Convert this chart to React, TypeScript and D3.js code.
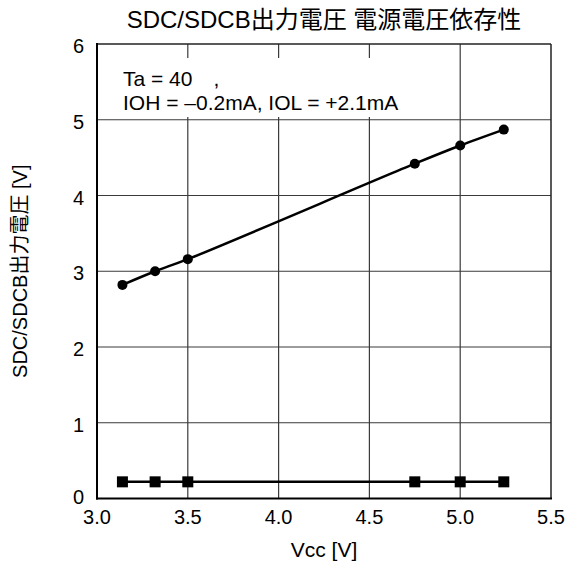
import React, { useEffect, useRef } from 'react';
import * as d3 from 'd3';

const vccHigh = [3.14, 3.32, 3.5, 4.75, 5.0, 5.24];
const vohValues = [2.82, 3.0, 3.16, 4.42, 4.66, 4.87];
const vccLow = [3.14, 3.32, 3.5, 4.75, 5.0, 5.24];
const volValues = [0.22, 0.22, 0.22, 0.22, 0.22, 0.22];
const xTicks = [3.0, 3.5, 4.0, 4.5, 5.0, 5.5];
const yTicks = [0, 1, 2, 3, 4, 5, 6];

const FONT = '"Liberation Sans", Arial, "Noto Sans CJK JP", sans-serif';

const App = () => {
  const svgRef = useRef<SVGSVGElement>(null);

  useEffect(() => {
    document.body.style.margin = '0';
    const svg = d3.select(svgRef.current);
    svg.selectAll('*').remove();

    const width = 568;
    const height = 565;
    const left = 97, right = 551, top = 44, bottom = 498.5;

    svg.attr('width', width).attr('height', height).style('font-family', FONT);

    const x = d3.scaleLinear().domain([3, 5.5]).range([left, right]);
    const y = d3.scaleLinear().domain([0, 6]).range([bottom, top]);

    // grid
    const grid = svg.append('g');
    grid.selectAll('.vg')
      .data(xTicks.slice(1, -1))
      .enter().append('line')
      .attr('x1', d => x(d)).attr('x2', d => x(d))
      .attr('y1', top).attr('y2', bottom)
      .attr('stroke', '#3a3a3a').attr('stroke-width', 1.2);
    grid.selectAll('.hg')
      .data(yTicks.slice(1, -1))
      .enter().append('line')
      .attr('x1', left).attr('x2', right)
      .attr('y1', d => y(d)).attr('y2', d => y(d))
      .attr('stroke', '#3a3a3a').attr('stroke-width', 1.2);

    // annotation box (covers the grid)
    svg.append('rect')
      .attr('x', 112).attr('y', 58).attr('width', 298).attr('height', 59)
      .attr('fill', 'white');
    const note = svg.append('text')
      .style('font-size', '21px')
      .attr('fill', '#000');
    note.append('tspan').attr('x', 123).attr('y', 86).text('Ta = 40\u3000,');
    note.append('tspan').attr('x', 123).attr('y', 110).text('IOH = \u20130.2mA, IOL = +2.1mA');

    // frame
    svg.append('line')
      .attr('x1', left).attr('x2', right).attr('y1', top).attr('y2', top)
      .attr('stroke', '#222').attr('stroke-width', 1.5);
    svg.append('line')
      .attr('x1', right).attr('x2', right).attr('y1', top).attr('y2', bottom)
      .attr('stroke', '#222').attr('stroke-width', 1.5);
    svg.append('line')
      .attr('x1', left).attr('x2', left).attr('y1', top - 1).attr('y2', bottom + 1)
      .attr('stroke', '#000').attr('stroke-width', 2);
    svg.append('line')
      .attr('x1', left - 1).attr('x2', right + 1).attr('y1', bottom).attr('y2', bottom)
      .attr('stroke', '#000').attr('stroke-width', 2);

    // tick labels
    svg.selectAll('.xt')
      .data(xTicks)
      .enter().append('text')
      .attr('x', d => x(d)).attr('y', bottom + 25)
      .attr('text-anchor', 'middle')
      .style('font-size', '20px')
      .text(d => d.toFixed(1));
    svg.selectAll('.yt')
      .data(yTicks)
      .enter().append('text')
      .attr('x', left - 13).attr('y', d => y(d) + (d === 0 ? 5.5 : 9))
      .attr('text-anchor', 'end')
      .style('font-size', '20px')
      .text(d => d);

    // axis titles
    svg.append('text')
      .attr('x', 324).attr('y', 28)
      .attr('text-anchor', 'middle')
      .style('font-size', '24px')
      .text('SDC/SDCB出力電圧 電源電圧依存性');
    svg.append('text')
      .attr('x', 324).attr('y', 557)
      .attr('text-anchor', 'middle')
      .style('font-size', '21px')
      .text('Vcc [V]');
    svg.append('text')
      .attr('transform', `translate(27, ${(top + bottom) / 2}) rotate(-90)`)
      .attr('text-anchor', 'middle')
      .style('font-size', '20px')
      .text('SDC/SDCB出力電圧 [V]');

    // series
    const high = vccHigh.map((v, i) => [v, vohValues[i]] as [number, number]);
    const low = vccLow.map((v, i) => [v, volValues[i]] as [number, number]);

    const line = d3.line<[number, number]>()
      .x(d => x(d[0]))
      .y(d => y(d[1]))
      .curve(d3.curveCatmullRom);

    svg.append('path')
      .attr('d', line(high))
      .attr('fill', 'none').attr('stroke', '#000').attr('stroke-width', 2.5);
    svg.append('path')
      .attr('d', line(low))
      .attr('fill', 'none').attr('stroke', '#000').attr('stroke-width', 2.5);

    svg.selectAll('.dot')
      .data(high)
      .enter().append('circle')
      .attr('cx', d => x(d[0])).attr('cy', d => y(d[1]))
      .attr('r', 5)
      .attr('fill', '#000');

    svg.selectAll('.sq')
      .data(low)
      .enter().append('rect')
      .attr('x', d => x(d[0]) - 5.5).attr('y', d => y(d[1]) - 5.5)
      .attr('width', 11).attr('height', 11)
      .attr('fill', '#000');
  }, []);

  return <svg ref={svgRef}></svg>;
};

export default App;
